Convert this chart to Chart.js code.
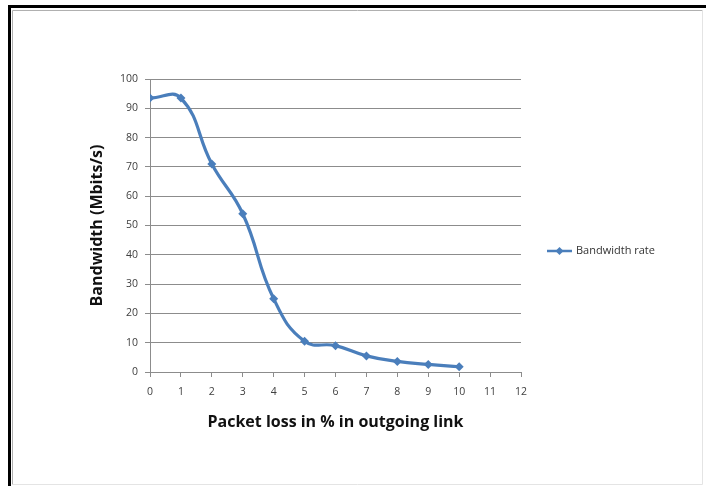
<!DOCTYPE html>
<html>
<head>
<meta charset="utf-8">
<script src="https://cdn.jsdelivr.net/npm/chart.js@4/dist/chart.umd.min.js"></script>
<style>
  html, body { margin: 0; padding: 0; background: #fff; }
  #wrap { width: 706px; height: 486px; position: relative; }
</style>
</head>
<body>
<div id="wrap"><canvas id="bw" width="706" height="486"></canvas></div>
<script>
const packetLoss = [0, 1, 2, 3, 4, 5, 6, 7, 8, 9, 10];
const bandwidth = [93.5, 93.5, 71, 54, 25, 10.5, 9, 5.5, 3.6, 2.6, 1.8];
const seriesName = "Bandwidth rate";
const xTitle = "Packet loss in % in outgoing link";
const yTitle = "Bandwidth (Mbits/s)";
const lineColor = "#4a7ebb";
const fontFam = "'Open Sans', 'DejaVu Sans', sans-serif";

const ctx = document.getElementById("bw").getContext("2d");

// frame around the whole picture, like the pasted excel chart
const framePlugin = {
    id: "frame",
    beforeDraw(chart) {
        const c = chart.ctx;
        c.save();
        c.fillStyle = "#fff";
        c.fillRect(0, 0, chart.width, chart.height);
        c.strokeStyle = "#000";
        c.lineWidth = 3;
        c.beginPath();
        c.moveTo(706, 6.5);
        c.lineTo(9.5, 6.5);
        c.lineTo(9.5, 486);
        c.stroke();
        c.strokeStyle = "#b0b0b0";
        c.lineWidth = 1;
        c.beginPath();
        c.moveTo(702.5, 10.5);
        c.lineTo(12.5, 10.5);
        c.lineTo(12.5, 484.5);
        c.stroke();
        c.strokeStyle = "#e4e4e4";
        c.beginPath();
        c.moveTo(12.5, 484.5);
        c.lineTo(702.5, 484.5);
        c.lineTo(702.5, 10.5);
        c.stroke();
        c.restore();
    },
};

// legend with line + diamond, drawn to the right of the plot
const legendPlugin = {
    id: "sideLegend",
    afterDraw(chart) {
        const c = chart.ctx;
        const ds = chart.data.datasets[0];
        const y = 251;
        c.save();
        c.strokeStyle = ds.borderColor;
        c.lineWidth = 2.5;
        c.beginPath();
        c.moveTo(547, y);
        c.lineTo(572, y);
        c.stroke();
        c.fillStyle = ds.borderColor;
        c.beginPath();
        c.moveTo(559.5, y - 4);
        c.lineTo(563.5, y);
        c.lineTo(559.5, y + 4);
        c.lineTo(555.5, y);
        c.closePath();
        c.fill();
        c.fillStyle = "#333";
        c.font = "11px " + fontFam;
        c.textBaseline = "middle";
        c.textAlign = "left";
        c.fillText(ds.label, 576, y);
        c.restore();
    },
};

const chart = new Chart(ctx, {
    type: "line",
    data: {
        datasets: [{
            label: seriesName,
            data: packetLoss.map((x, i) => ({ x: x, y: bandwidth[i] })),
            borderColor: lineColor,
            backgroundColor: lineColor,
            borderWidth: 3.2,
            tension: 0.45,
            fill: false,
            pointStyle: "rectRot",
            pointRadius: 4.5,
            pointBorderWidth: 0,
        }],
    },
    options: {
        responsive: false,
        animation: false,
        layout: {
            padding: { left: 0, top: 79, right: 185, bottom: 0 },
        },
        plugins: {
            legend: { display: false },
            tooltip: { enabled: false },
        },
        scales: {
            x: {
                type: "linear",
                min: 0,
                max: 12,
                afterFit: function(scale) { scale.height = 114; },
                ticks: {
                    stepSize: 1,
                    padding: 9,
                    color: "#404040",
                    font: { size: 10.5, family: fontFam },
                },
                grid: {
                    drawOnChartArea: false,
                    drawTicks: true,
                    tickLength: 5,
                    color: "#8c8c8c",
                },
                border: { color: "#8c8c8c", width: 1 },
                title: {
                    display: true,
                    text: xTitle,
                    color: "#111",
                    font: { size: 16, weight: "bold", family: fontFam },
                    padding: { top: 0, bottom: 54 },
                },
            },
            y: {
                min: 0,
                max: 100,
                afterFit: function(scale) { scale.width = 150; },
                ticks: {
                    stepSize: 10,
                    padding: 7,
                    color: "#404040",
                    font: { size: 10.5, family: fontFam },
                },
                grid: {
                    color: "#8c8c8c",
                    tickLength: 5,
                },
                border: { color: "#8c8c8c", width: 1 },
                title: {
                    display: true,
                    text: yTitle,
                    color: "#111",
                    font: { size: 16, weight: "bold", family: fontFam },
                    padding: { top: 88, bottom: 0 },
                },
            },
        },
    },
    plugins: [framePlugin, legendPlugin],
});
</script>
</body>
</html>
